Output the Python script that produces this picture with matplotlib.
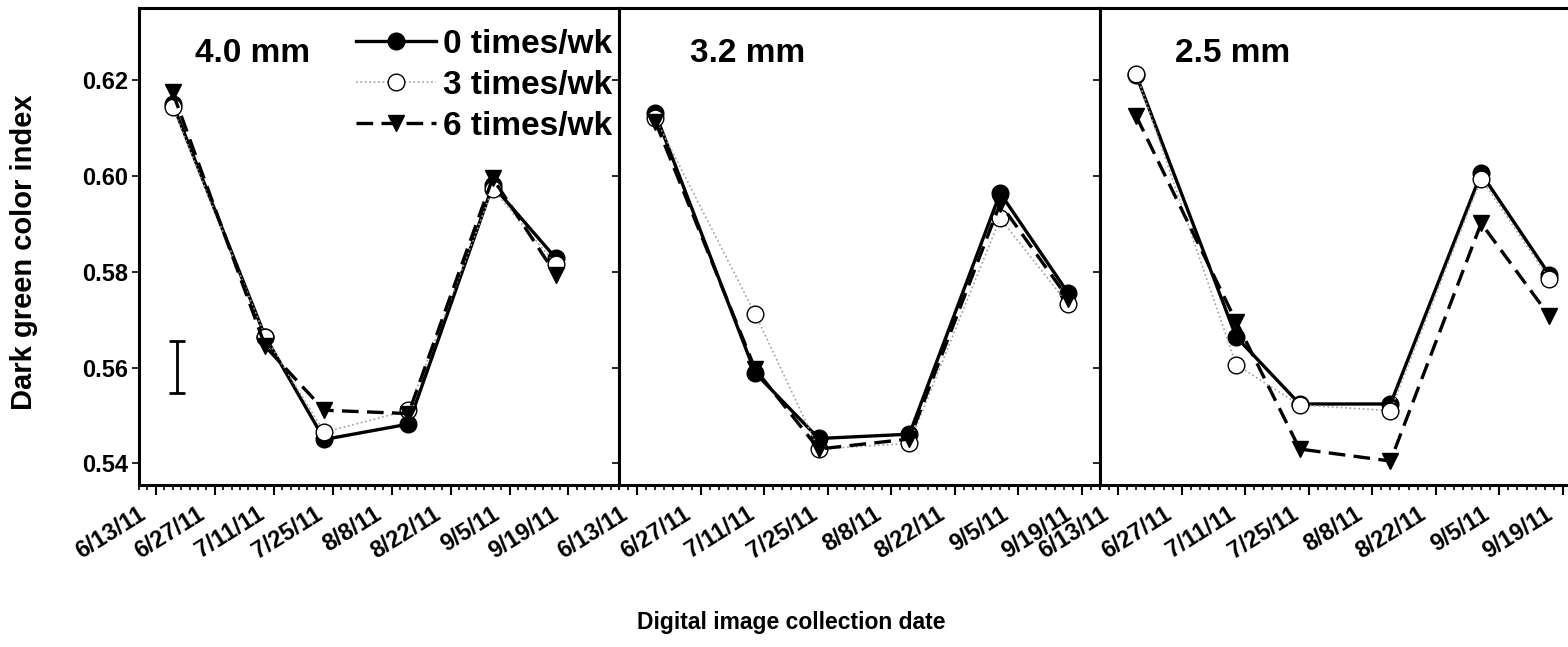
import numpy as np
import pandas as pd
import matplotlib
matplotlib.use("Agg")
import matplotlib.pyplot as plt
import matplotlib.dates as mdates
import matplotlib.transforms as mtransforms
from matplotlib.ticker import FixedLocator, FuncFormatter, NullFormatter

plt.rcParams['font.family'] = ['Liberation Sans', 'DejaVu Sans']
plt.rcParams['font.weight'] = 'bold'

# collection dates (same for every plot)
dates = pd.to_datetime(['2011-06-17', '2011-07-09', '2011-07-23',
                        '2011-08-12', '2011-09-01', '2011-09-16'])

heights = ['4.0 mm', '3.2 mm', '2.5 mm']
freq_labels = ['0 times/wk', '3 times/wk', '6 times/wk']

# DGCI, rows = 0, 3, 6 times/wk
dgci_40 = [[0.6150, 0.5664, 0.5450, 0.5482, 0.5980, 0.5828],
           [0.6143, 0.5664, 0.5465, 0.5511, 0.5973, 0.5815],
           [0.6174, 0.5644, 0.5511, 0.5504, 0.5995, 0.5794]]
dgci_32 = [[0.6130, 0.5589, 0.5452, 0.5461, 0.5964, 0.5755],
           [0.6120, 0.5712, 0.5430, 0.5442, 0.5911, 0.5732],
           [0.6113, 0.5597, 0.5430, 0.5451, 0.5942, 0.5744]]
dgci_25 = [[0.6210, 0.5664, 0.5524, 0.5524, 0.6005, 0.5794],
           [0.6213, 0.5606, 0.5522, 0.5510, 0.5994, 0.5785],
           [0.6124, 0.5696, 0.5430, 0.5405, 0.5901, 0.5708]]

# LSD bar
lsd_date = pd.Timestamp('2011-06-18')
lsd_mid = 0.5601
lsd_half = 0.0055

W, H = 1568, 647
fig = plt.figure(figsize=(W / 100, H / 100), dpi=100)

# pixel boxes: left, width ; shared bottom / height
boxes = [(139, 480), (619, 481), (1100, 481)]
xlims = [('2011-06-09', '2011-10-01'), ('2011-06-09', '2011-09-23'), ('2011-06-09', '2011-09-23')]
text_x = [0.117, 0.148, 0.156]

styles = [dict(color='k', ls='-', lw=2.4, marker='o', ms=12, mfc='k', mec='k'),
          dict(color='#a0a0a0', ls=':', lw=1.2, marker='o', ms=12, mfc='white', mec='k', mew=1.0),
          dict(color='k', ls=(0, (5, 2.5)), lw=2.4, marker='v', ms=12, mfc='k', mec='k')]

major = mdates.date2num(pd.date_range('2011-06-13', '2011-09-19', freq='14D'))
minor = mdates.date2num(pd.date_range('2011-06-01', '2011-10-05', freq='2D'))

def fmt_date(x, pos=None):
    d = mdates.num2date(x)
    return '%d/%d/%s' % (d.month, d.day, d.strftime('%y'))

# nudge the slanted date labels left/down
shift = mtransforms.ScaledTranslation(-0.18, -0.02, fig.dpi_scale_trans)

axes = []
for i, (data, (left, width)) in enumerate(zip([dgci_40, dgci_32, dgci_25], boxes)):
    ax = fig.add_axes([left / W, 162 / H, width / W, 477 / H])
    for row, st, lab in zip(data, styles, freq_labels):
        ax.plot(dates, row, label=lab, **st)

    ax.set_xlim(pd.Timestamp(xlims[i][0]), pd.Timestamp(xlims[i][1]))
    ax.set_ylim(0.5355, 0.635)
    ax.xaxis.set_major_locator(FixedLocator(major))
    ax.xaxis.set_minor_locator(FixedLocator(minor))
    ax.xaxis.set_major_formatter(FuncFormatter(fmt_date))
    ax.set_yticks([0.54, 0.56, 0.58, 0.60, 0.62])
    if i == 0:
        ax.set_yticklabels(['%.2f' % v for v in ax.get_yticks()])
    else:
        ax.yaxis.set_major_formatter(NullFormatter())

    ax.tick_params(axis='x', which='major', direction='out', length=7, width=1.5, labelsize=17, pad=4)
    ax.tick_params(axis='x', which='minor', direction='out', length=3.5, width=1.2)
    ax.tick_params(axis='y', direction='out', length=5, width=1.2, labelsize=17, pad=3)
    for lbl in ax.get_xticklabels():
        lbl.set_rotation(32)
        lbl.set_ha('right')
        lbl.set_va('top')
        lbl.set_rotation_mode('anchor')
        lbl.set_fontweight('bold')
        lbl.set_transform(lbl.get_transform() + shift)
    for lbl in ax.get_yticklabels():
        lbl.set_fontweight('bold')
    for sp in ax.spines.values():
        sp.set_linewidth(2.2)

    ax.text(text_x[i], 0.905, heights[i], transform=ax.transAxes,
            fontsize=24, fontweight='bold', va='center', ha='left')
    axes.append(ax)

axes[0].errorbar([lsd_date], [lsd_mid], yerr=lsd_half, fmt='none', ecolor='k',
                 elinewidth=2, capsize=5.5, capthick=2)

leg = axes[0].legend(loc='upper right', bbox_to_anchor=(0.985, 0.956), frameon=False,
                     fontsize=24, handlelength=2.4, handletextpad=0.2,
                     labelspacing=0.3, borderaxespad=0.0, borderpad=0.0)
for t in leg.get_texts():
    t.set_fontweight('bold')

fig.text(24 / W, (H - 252) / H, 'Dark green color index', rotation=90,
         ha='center', va='center', fontsize=21, fontweight='bold')
fig.text(791 / W, 24 / H, 'Digital image collection date',
         ha='center', va='center', fontsize=16.5, fontweight='bold')

fig.savefig('out.png', dpi=100)
